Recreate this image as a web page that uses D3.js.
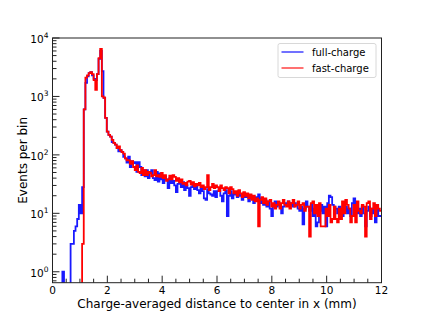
<!doctype html>
<html>
  <head>
    <script src="https://cdn.jsdelivr.net/npm/d3@7"></script>
    <style>
      body { margin: 0; background: #fff; }
      text { font-family: "DejaVu Sans", sans-serif; fill: #000; }
    </style>
  </head>
  <body>
    <svg id="chart" width="424" height="318"></svg>

    <script>
      // histogram: 200 bins of 0.06 mm between 0 and 12 mm
      var binLo = 0, binHi = 12, nBins = 200;

      var fullCharge = [
        0, 0, 0, 0, 0, 0, 1, 0, 0, 0,
        0, 3, 3, 5, 6, 8, 14, 10, 28, 600,
        1700, 2200, 2500, 2600, 2300, 2000, 1900, 2400, 4400, 6000,
        2700, 950, 430, 250, 220, 205, 165, 160, 150, 130,
        115, 120, 112, 93, 87, 74, 93, 62, 78, 72,
        75, 51, 75, 62, 45, 55, 43, 55, 40, 51,
        55, 40, 37, 51, 35, 48, 38, 33, 43, 38,
        27, 40, 33, 36, 30, 23, 32, 35, 28, 34,
        25, 30, 27, 20, 28, 30, 26, 29, 25, 22,
        27, 24, 18, 17, 26, 22, 21, 20, 24, 19,
        24, 27, 20, 16, 22, 25, 9, 20, 24, 18,
        21, 22, 19, 24, 20, 17, 22, 19, 21, 16,
        20, 18, 15, 19, 17, 21, 15, 18, 14, 17,
        13, 16, 12, 9, 14, 16, 13, 15, 14, 10,
        13, 15, 14, 16, 14, 15, 13, 15, 14, 12,
        11, 13, 6.5, 12, 16, 13, 11, 14, 9, 12,
        6, 7, 11, 14, 10, 13, 6, 15, 20, 19,
        14, 13, 12, 10, 13, 12, 9, 11, 13, 10,
        12, 9, 15, 18, 12, 10, 12, 9, 13, 10,
        6, 11, 13, 9, 12, 10, 7, 12, 9, 9
      ];

      var fastCharge = [
        0, 0, 0, 0, 0, 0, 0, 0, 0, 0,
        0, 0, 0, 0, 0, 0, 0, 0, 3, 600,
        2100, 2300, 2500, 2600, 2400, 1900, 1300, 2400, 4500, 6500,
        1000, 950, 430, 250, 220, 205, 180, 160, 150, 130,
        140, 120, 112, 105, 87, 81, 81, 70, 78, 62,
        55, 66, 51, 49, 60, 45, 55, 45, 51, 49,
        43, 45, 55, 43, 45, 42, 49, 40, 45, 36,
        38, 44, 38, 45, 42, 36, 40, 34, 38, 32,
        33, 30, 35, 36, 31, 34, 29, 32, 30, 33,
        28, 30, 26, 28, 45, 25, 28, 32, 27, 30,
        28, 24, 30, 27, 25, 28, 27, 22, 28, 26,
        22, 24, 20, 25, 22, 19, 23, 20, 22, 18,
        21, 17, 20, 16, 18, 6, 17, 19, 15, 18,
        14, 16, 17, 13, 15, 12, 14, 16, 12, 15,
        17, 14, 13, 16, 12, 15, 17, 13, 14, 16,
        12, 14, 15, 11, 13, 13, 4, 15, 16, 10,
        14, 9, 15, 6, 6, 6, 12, 9, 14, 7,
        8, 13, 8, 7, 12, 8, 16, 10, 17, 14,
        12, 7, 9, 14, 7, 16, 11, 10, 14, 13,
        4, 15, 16, 8, 12, 15, 9, 14, 12, 11
      ];

      var seriesNames = ["full-charge", "fast-charge"];
      var seriesColors = ["#0000ff", "#ff0000"];
      var seriesOpacity = [0.9, 1];

      var xTicks = [0, 2, 4, 6, 8, 10, 12];
      var yTicks = [1, 10, 100, 1000, 10000];

      var svg = d3.select("#chart");
      var pLeft = 52.5, pRight = 381.5, pTop = 38, pBottom = 282.7;

      var x = d3.scaleLinear().domain([binLo, binHi]).range([pLeft, pRight]);
      var y = d3.scaleLog().domain([0.65, 1e4]).range([pBottom, pTop]);

      svg.append("clipPath").attr("id", "clip")
        .append("rect")
          .attr("x", pLeft).attr("y", pTop)
          .attr("width", pRight - pLeft).attr("height", pBottom - pTop);

      // turn bin counts into step points (0 -> far below the axis)
      var binW = (binHi - binLo) / nBins;
      var toSteps = function(counts) {
        var pts = [{x: binLo, v: 0.01}];
        counts.forEach(function(c, i) {
          pts.push({x: binLo + i * binW, v: c > 0 ? c : 0.01});
        });
        pts.push({x: binHi, v: counts[counts.length - 1] || 0.01});
        return pts;
      };

      var line = d3.line()
        .x(function(d) { return x(d.x); })
        .y(function(d) { return y(d.v); })
        .curve(d3.curveStepAfter);

      var plot = svg.append("g").attr("clip-path", "url(#clip)");
      [fullCharge, fastCharge].forEach(function(counts, k) {
        plot.append("path")
          .attr("d", line(toSteps(counts)))
          .attr("fill", "none")
          .attr("stroke", seriesColors[k])
          .attr("stroke-opacity", seriesOpacity[k])
          .attr("stroke-width", 1.8)
          .attr("stroke-linejoin", "miter");
      });

      // frame
      svg.append("rect")
        .attr("x", pLeft).attr("y", pTop)
        .attr("width", pRight - pLeft).attr("height", pBottom - pTop)
        .attr("fill", "none").attr("stroke", "#222").attr("stroke-width", 1);

      // x ticks (inward)
      var xMinor = d3.range(0, 12.01, 0.5).filter(function(v) { return v % 2 !== 0; });
      var xAxis = svg.append("g");
      xTicks.forEach(function(v) {
        xAxis.append("line")
          .attr("x1", x(v)).attr("x2", x(v))
          .attr("y1", pBottom).attr("y2", pBottom - 7)
          .attr("stroke", "#222");
        xAxis.append("text")
          .attr("x", x(v)).attr("y", pBottom + 11)
          .attr("text-anchor", "middle")
          .attr("font-size", 10.5)
          .text(v);
      });
      xMinor.forEach(function(v) {
        xAxis.append("line")
          .attr("x1", x(v)).attr("x2", x(v))
          .attr("y1", pBottom).attr("y2", pBottom - 4)
          .attr("stroke", "#222");
      });

      // y ticks (inward), log minor ticks
      var yAxis = svg.append("g");
      yTicks.forEach(function(v, i) {
        yAxis.append("line")
          .attr("x1", pLeft).attr("x2", pLeft + 7)
          .attr("y1", y(v)).attr("y2", y(v))
          .attr("stroke", "#222");
        var t = yAxis.append("text")
          .attr("x", pLeft - 4).attr("y", y(v) + 5)
          .attr("text-anchor", "end")
          .attr("font-size", 10.5);
        t.append("tspan").text("10");
        t.append("tspan").attr("dy", -5).attr("font-size", 7.5).text(i);
      });
      var yMinor = [];
      [0.1, 1, 10, 100, 1000].forEach(function(dec) {
        for (var m = 2; m <= 9; m++) yMinor.push(dec * m);
      });
      yMinor.filter(function(v) { return v > 0.65 && v < 1e4; }).forEach(function(v) {
        yAxis.append("line")
          .attr("x1", pLeft).attr("x2", pLeft + 4)
          .attr("y1", y(v)).attr("y2", y(v))
          .attr("stroke", "#222");
      });

      // axis titles
      svg.append("text")
        .attr("x", (pLeft + pRight) / 2).attr("y", 308)
        .attr("text-anchor", "middle")
        .attr("font-size", 12)
        .text("Charge-averaged distance to center in x (mm)");
      svg.append("text")
        .attr("transform", "translate(27," + ((pTop + pBottom) / 2) + ") rotate(-90)")
        .attr("text-anchor", "middle")
        .attr("font-size", 12)
        .text("Events per bin");

      // legend
      var lg = svg.append("g").attr("transform", "translate(278,43.5)");
      lg.append("rect")
        .attr("width", 98).attr("height", 34).attr("rx", 2)
        .attr("fill", "#fff").attr("fill-opacity", 0.8)
        .attr("stroke", "#d8d8d8");
      seriesNames.forEach(function(name, k) {
        lg.append("line")
          .attr("x1", 3.5).attr("x2", 25.5)
          .attr("y1", 8.5 + k * 16).attr("y2", 8.5 + k * 16)
          .attr("stroke", seriesColors[k]).attr("stroke-opacity", 0.8)
          .attr("stroke-width", 1.4);
        lg.append("text")
          .attr("x", 34).attr("y", 12.5 + k * 16)
          .attr("font-size", 10)
          .text(name);
      });
    </script>
  </body>
</html>
